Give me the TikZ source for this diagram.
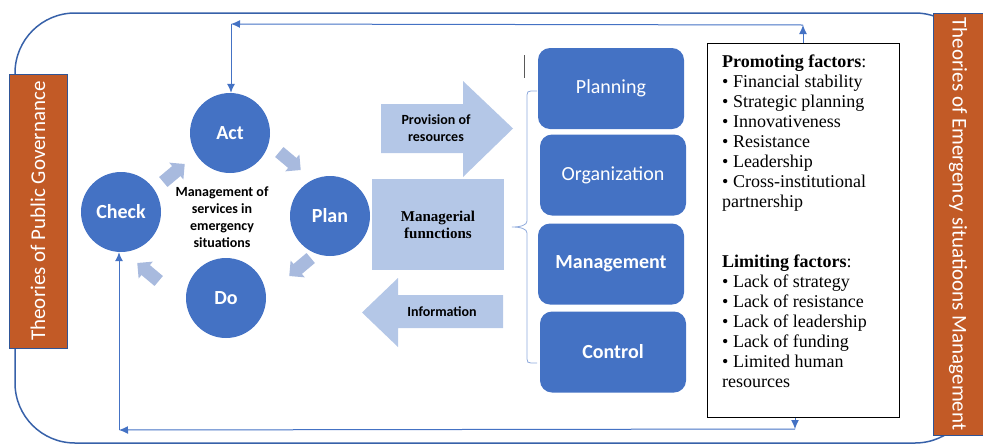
\documentclass[tikz,border=0pt]{standalone}
\usepackage{fontspec}
\setmainfont{Carlito}
\newfontfamily\serifrm{Liberation Serif}
\usetikzlibrary{arrows.meta}

\definecolor{govorange}{RGB}{194,90,38}
\definecolor{pdcablue}{RGB}{68,114,196}
\definecolor{framedark}{RGB}{47,85,151}
\definecolor{lightblue}{RGB}{180,199,231}
\definecolor{cyclearrow}{RGB}{168,186,222}
\definecolor{bracecol}{RGB}{143,170,220}

\tikzset{
  phase/.style={circle, fill=pdcablue, minimum size=80pt, inner sep=0pt,
    text=white, font=\fontsize{20}{24}\selectfont\bfseries},
  func/.style={rounded corners=12pt, fill=pdcablue, minimum width=146pt,
    minimum height=81pt, text=white, font=\fontsize{20}{24}\selectfont},
  funcbold/.style={func, font=\fontsize{20}{24}\selectfont\bfseries},
  theory/.style={fill=govorange, draw=framedark, line width=0.6pt,
    text=white, font=\fontsize{21}{25}\selectfont},
  label/.style={font=\fontsize{14}{17}\selectfont\bfseries, align=center},
  conn/.style={draw=pdcablue, line width=1pt, -{Latex[length=9pt,width=8pt]}}
}

\begin{document}
\begin{tikzpicture}[x=1pt, y=-1pt]
    \useasboundingbox (0,0) rectangle (983,445);

    % outer frame
    \draw[framedark!60!pdcablue, line width=1.5pt, rounded corners=60pt] (15,13) rectangle (975,443);

    \node[theory, rotate=90, minimum width=274pt, minimum height=58pt] (pubgov) at (38,211) {Theories of Public Governance};
    \node[theory, rotate=-90, minimum width=422pt, minimum height=50pt] (emgov) at (958,224) {Theories of Emergency situatioons Management};

    % PDCA cycle
    \node[phase] (act) at (230,133) {Act};
    \node[phase] (plan) at (330,216) {Plan};
    \node[phase] (do) at (226,298) {Do};
    \node[phase] (check) at (121,212) {Check};
    \node[label] (mgmt) at (222,217) {Management of\\services in\\emergency\\situations};

    \foreach \cx/\cy/\ang in {174/173/40, 290/161/-40, 300/267/-140, 148/272/140}
      \fill[cyclearrow, shift={(\cx,\cy)}, rotate=\ang]
        (-14,-6.5) -- (3,-6.5) -- (3,-11) -- (14,0) -- (3,11) -- (3,6.5) -- (-14,6.5) -- cycle;

    % resources and information
    \fill[lightblue] (381,104) -- (463,104) -- (463,81) -- (513,128.5) -- (463,177) -- (463,153) -- (381,153) -- cycle;
    \node[label] (prov) at (436,128) {Provision of\\resources};
    \node[fill=lightblue, minimum width=132pt, minimum height=91pt, align=center,
      font=\serifrm\bfseries\fontsize{15}{17}\selectfont] (mfunc) at (438,224.5) {Managerial\\funnctions};
    \fill[lightblue] (503,295) -- (398,295) -- (398,278) -- (362,312.5) -- (398,347) -- (398,328) -- (503,328) -- cycle;
    \node[label] (info) at (442,312) {Information};

    % managerial functions
    \node[func] (planning) at (611,88.5) {Planning};
    \node[func] (organ) at (613,175) {Organization};
    \node[funcbold] (manage) at (611,264) {Management};
    \node[funcbold] (control) at (613,352) {Control};

    \draw[bracecol, line width=0.8pt] (537,91) -- (531,91) .. controls (528,91) and (527,92) .. (527,95)
      -- (527,221) .. controls (527,225) and (521,227) .. (512,227)
      .. controls (521,227) and (527,229) .. (527,233) -- (527,359)
      .. controls (527,362) and (528,363) .. (531,363) -- (537,363);
    \draw[black!65, line width=1pt] (524,55) -- (524,78);

    % factors
    \node[draw=black, line width=1pt, minimum width=192pt, minimum height=374pt] (factors) at (803,230) {};
    \node[anchor=north west, inner sep=0pt, align=left, font=\serifrm\fontsize{18}{20}\selectfont] (factlist) at (722,55)
      {\textbf{Promoting factors}:\\
       \textbullet{} Financial stability\\
       \textbullet{} Strategic planning\\
       \textbullet{} Innovativeness\\
       \textbullet{} Resistance\\
       \textbullet{} Leadership\\
       \textbullet{} Cross-institutional\\
       partnership\\[40pt]
       \textbf{Limiting factors}:\\
       \textbullet{} Lack of strategy\\
       \textbullet{} Lack of resistance\\
       \textbullet{} Lack of leadership\\
       \textbullet{} Lack of funding\\
       \textbullet{} Limited human\\
       resources};

    % feedback loops
    \coordinate (topright) at (803,25);
    \coordinate (topleft) at (231,24);
    \coordinate (botright) at (795,429);
    \coordinate (botleft) at (119,430);
    \draw[conn] (factors.north) -- (topright);
    \draw[conn] (topright) -- (topleft);
    \draw[conn] (topleft) -- (topleft |- act.north);
    \draw[conn] (factors.south -| botright) -- (botright);
    \draw[conn] (botright) -- (botleft);
    \draw[conn] (botleft) -- (botleft |- check.south);
\end{tikzpicture}
\end{document}
